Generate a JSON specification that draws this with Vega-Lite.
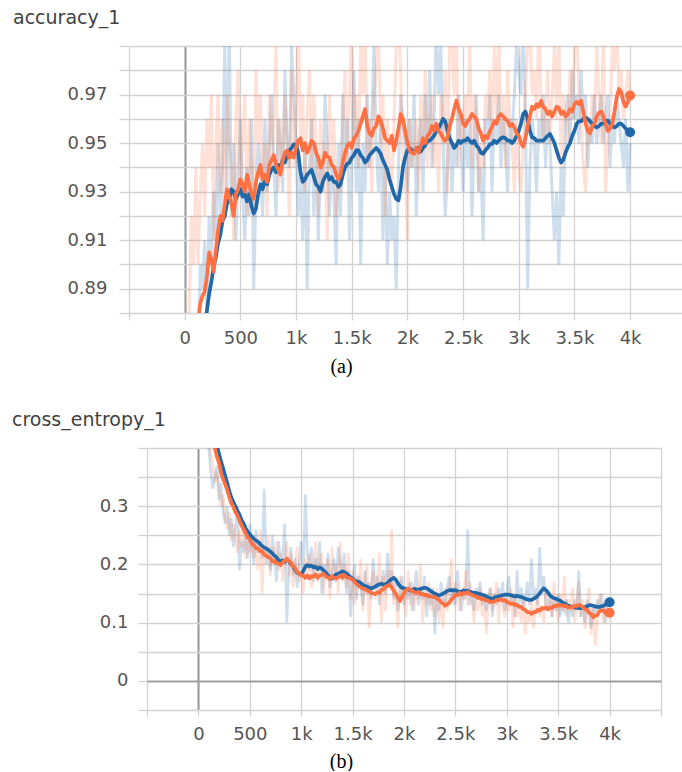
{
  "$schema": "https://vega.github.io/schema/vega-lite/v6.json",
  "background": "white",
  "padding": {"left": 12, "top": 9, "right": 0, "bottom": 0},
  "spacing": 35,
  "config": {
    "view": {"stroke": null},
    "axis": {
      "labelFont": "DejaVu Sans",
      "labelFontSize": 18,
      "labelColor": "#555555",
      "domain": false,
      "grid": true,
      "gridColor": {"condition": {"test": "datum.value === 0", "value": "#9e9e9e"}, "value": "#d2d2d2"},
      "gridWidth": {"condition": {"test": "datum.value === 0", "value": 2.2}, "value": 1.3},
      "tickColor": "#d2d2d2",
      "tickWidth": 1.3,
      "labelOverlap": false,
      "labelFlush": false
    },
    "title": {"font": "DejaVu Sans", "fontSize": 19, "fontWeight": "normal", "color": "#424242", "anchor": "start", "frame": "group", "baseline": "alphabetic", "offset": 9}
  },
  "datasets": {
    "accRaw": [
      {"s":0,"b":0.70,"o":0.74},{"s":20,"b":0.78,"o":0.84},{"s":40,"b":0.82,"o":0.88},{"s":60,"b":0.86,"o":0.92},{"s":80,"b":0.84,"o":0.90},
      {"s":100,"b":0.88,"o":0.94},{"s":120,"b":0.86,"o":0.90},{"s":140,"b":0.90,"o":0.93},{"s":160,"b":0.89,"o":0.95},{"s":180,"b":0.91,"o":0.92},
      {"s":200,"b":0.88,"o":0.96},{"s":220,"b":0.92,"o":0.94},{"s":240,"b":0.90,"o":0.97},{"s":260,"b":0.93,"o":0.91},{"s":280,"b":0.91,"o":0.95},
      {"s":300,"b":0.95,"o":0.97},{"s":320,"b":0.92,"o":0.93},{"s":340,"b":0.94,"o":0.96},{"s":360,"b":0.99,"o":0.92},{"s":380,"b":0.93,"o":0.97},
      {"s":400,"b":1.0,"o":0.95},{"s":420,"b":0.92,"o":0.94},{"s":440,"b":0.95,"o":0.91},{"s":460,"b":0.91,"o":0.96},{"s":480,"b":0.94,"o":0.98},
      {"s":500,"b":0.96,"o":0.93},{"s":520,"b":0.93,"o":0.95},{"s":540,"b":0.91,"o":0.97},{"s":560,"b":0.94,"o":0.92},{"s":580,"b":0.92,"o":0.96},
      {"s":600,"b":0.96,"o":0.94},{"s":620,"b":0.89,"o":0.92},{"s":640,"b":0.93,"o":0.98},{"s":660,"b":0.95,"o":0.95},{"s":680,"b":0.94,"o":0.97},
      {"s":700,"b":0.92,"o":0.93},{"s":720,"b":0.96,"o":0.95},{"s":740,"b":0.93,"o":0.92},{"s":760,"b":0.95,"o":0.97},{"s":780,"b":0.97,"o":0.94},
      {"s":800,"b":0.94,"o":0.96},{"s":820,"b":0.92,"o":0.99},{"s":840,"b":0.96,"o":0.93},{"s":860,"b":0.95,"o":0.96},{"s":880,"b":0.93,"o":0.94},
      {"s":900,"b":0.98,"o":0.97},{"s":920,"b":0.95,"o":0.95},{"s":940,"b":0.94,"o":0.92},{"s":960,"b":0.99,"o":0.98},{"s":980,"b":0.97,"o":0.94},
      {"s":1000,"b":0.95,"o":0.96},{"s":1020,"b":0.92,"o":1.0},{"s":1040,"b":0.94,"o":0.95},{"s":1060,"b":0.91,"o":0.97},{"s":1080,"b":0.95,"o":0.93},
      {"s":1100,"b":0.89,"o":0.96},{"s":1120,"b":0.94,"o":0.98},{"s":1140,"b":0.96,"o":0.94},{"s":1160,"b":0.92,"o":0.97},{"s":1180,"b":0.95,"o":0.95},
      {"s":1200,"b":0.91,"o":0.92},{"s":1220,"b":0.94,"o":0.96},{"s":1240,"b":0.93,"o":0.93},{"s":1260,"b":0.97,"o":0.95},{"s":1280,"b":0.95,"o":0.91},
      {"s":1300,"b":0.92,"o":0.97},{"s":1320,"b":0.94,"o":0.94},{"s":1340,"b":0.93,"o":0.96},{"s":1360,"b":0.90,"o":0.92},{"s":1380,"b":0.95,"o":0.94},
      {"s":1400,"b":0.92,"o":0.93},{"s":1420,"b":0.97,"o":0.96},{"s":1440,"b":0.94,"o":0.98},{"s":1460,"b":0.96,"o":0.94},{"s":1480,"b":0.91,"o":0.97},
      {"s":1500,"b":0.95,"o":1.0},{"s":1520,"b":0.98,"o":0.95},{"s":1540,"b":0.93,"o":0.97},{"s":1560,"b":0.96,"o":0.94},{"s":1580,"b":0.90,"o":0.99},
      {"s":1600,"b":0.95,"o":0.97},{"s":1620,"b":0.93,"o":1.0},{"s":1640,"b":0.97,"o":0.94},{"s":1660,"b":0.94,"o":0.96},{"s":1680,"b":0.96,"o":0.93},
      {"s":1700,"b":0.99,"o":0.97},{"s":1720,"b":0.95,"o":0.98},{"s":1740,"b":0.93,"o":1.0},{"s":1760,"b":0.96,"o":0.95},{"s":1780,"b":0.91,"o":0.97},
      {"s":1800,"b":0.94,"o":0.92},{"s":1820,"b":0.90,"o":0.96},{"s":1840,"b":0.93,"o":0.94},{"s":1860,"b":0.91,"o":0.93},{"s":1880,"b":0.92,"o":0.96},
      {"s":1900,"b":0.89,"o":0.99},{"s":1920,"b":0.94,"o":1.0},{"s":1940,"b":0.97,"o":0.98},{"s":1960,"b":0.96,"o":0.93},{"s":1980,"b":0.95,"o":0.94},
      {"s":2000,"b":0.93,"o":0.91},{"s":2020,"b":0.96,"o":0.96},{"s":2040,"b":0.94,"o":0.94},{"s":2060,"b":0.97,"o":0.95},{"s":2080,"b":0.92,"o":0.96},
      {"s":2100,"b":0.95,"o":0.93},{"s":2120,"b":0.96,"o":0.97},{"s":2140,"b":0.93,"o":0.95},{"s":2160,"b":0.97,"o":0.98},{"s":2180,"b":0.95,"o":0.94},
      {"s":2200,"b":0.98,"o":0.96},{"s":2220,"b":0.94,"o":0.97},{"s":2240,"b":0.96,"o":0.94},{"s":2260,"b":1.0,"o":0.96},{"s":2280,"b":0.97,"o":0.93},
      {"s":2300,"b":0.99,"o":0.97},{"s":2320,"b":0.95,"o":0.95},{"s":2340,"b":0.92,"o":0.98},{"s":2360,"b":0.94,"o":0.93},{"s":2380,"b":0.96,"o":1.0},
      {"s":2400,"b":0.93,"o":0.99},{"s":2420,"b":0.95,"o":0.97},{"s":2440,"b":0.94,"o":1.0},{"s":2460,"b":0.97,"o":0.94},{"s":2480,"b":0.95,"o":0.96},
      {"s":2500,"b":0.93,"o":0.95},{"s":2520,"b":0.96,"o":0.97},{"s":2540,"b":0.94,"o":0.96},{"s":2560,"b":0.96,"o":0.99},{"s":2580,"b":0.92,"o":0.94},
      {"s":2600,"b":0.95,"o":0.97},{"s":2620,"b":0.97,"o":0.96},{"s":2640,"b":0.93,"o":0.93},{"s":2660,"b":0.94,"o":0.95},{"s":2680,"b":0.91,"o":0.94},
      {"s":2700,"b":0.96,"o":0.97},{"s":2720,"b":0.95,"o":0.96},{"s":2740,"b":0.97,"o":0.98},{"s":2760,"b":0.93,"o":0.95},{"s":2780,"b":0.96,"o":0.99},
      {"s":2800,"b":0.95,"o":0.96},{"s":2820,"b":0.97,"o":1.0},{"s":2840,"b":0.94,"o":0.95},{"s":2860,"b":0.96,"o":0.97},{"s":2880,"b":0.95,"o":0.94},
      {"s":2900,"b":0.93,"o":0.98},{"s":2920,"b":0.96,"o":0.96},{"s":2940,"b":0.95,"o":0.95},{"s":2960,"b":0.97,"o":0.93},{"s":2980,"b":0.99,"o":0.96},
      {"s":3000,"b":0.98,"o":0.94},{"s":3020,"b":0.97,"o":0.93},{"s":3040,"b":1.0,"o":0.95},{"s":3060,"b":0.96,"o":0.97},{"s":3080,"b":0.89,"o":0.99},
      {"s":3100,"b":0.94,"o":1.0},{"s":3120,"b":0.96,"o":0.97},{"s":3140,"b":0.95,"o":0.98},{"s":3160,"b":0.93,"o":0.96},{"s":3180,"b":0.96,"o":1.0},
      {"s":3200,"b":0.95,"o":0.97},{"s":3220,"b":0.97,"o":0.95},{"s":3240,"b":0.94,"o":0.96},{"s":3260,"b":0.96,"o":0.98},{"s":3280,"b":0.95,"o":0.95},
      {"s":3300,"b":0.93,"o":0.97},{"s":3320,"b":0.91,"o":0.99},{"s":3340,"b":0.93,"o":0.96},{"s":3360,"b":0.90,"o":1.0},{"s":3380,"b":0.94,"o":0.94},
      {"s":3400,"b":0.92,"o":0.97},{"s":3420,"b":0.96,"o":0.96},{"s":3440,"b":0.97,"o":0.95},{"s":3460,"b":0.95,"o":0.98},{"s":3480,"b":0.98,"o":0.96},
      {"s":3500,"b":0.96,"o":0.99},{"s":3520,"b":0.97,"o":1.0},{"s":3540,"b":0.95,"o":0.97},{"s":3560,"b":0.98,"o":0.96},{"s":3580,"b":0.96,"o":0.94},
      {"s":3600,"b":0.97,"o":0.93},{"s":3620,"b":0.94,"o":0.96},{"s":3640,"b":0.96,"o":0.95},{"s":3660,"b":0.95,"o":0.97},{"s":3680,"b":0.97,"o":0.96},
      {"s":3700,"b":0.95,"o":0.99},{"s":3720,"b":0.96,"o":0.97},{"s":3740,"b":0.97,"o":0.95},{"s":3760,"b":0.95,"o":1.0},{"s":3780,"b":0.96,"o":0.93},
      {"s":3800,"b":0.97,"o":0.95},{"s":3820,"b":0.94,"o":0.96},{"s":3840,"b":0.96,"o":0.99},{"s":3860,"b":0.95,"o":0.98},{"s":3880,"b":0.97,"o":1.0},
      {"s":3900,"b":0.96,"o":0.97},{"s":3920,"b":0.95,"o":0.98},{"s":3940,"b":0.94,"o":0.96},{"s":3960,"b":0.96,"o":0.97},{"s":3980,"b":0.93,"o":0.98},
      {"s":4000,"b":0.95,"o":0.97}
    ],
    "accSm": [
      {"s":0,"b":0.70,"o":0.72},{"s":20,"b":0.73,"o":0.76},{"s":40,"b":0.76,"o":0.80},{"s":60,"b":0.79,"o":0.83},{"s":80,"b":0.82,"o":0.85},
      {"s":100,"b":0.84,"o":0.866},{"s":120,"b":0.855,"o":0.877},{"s":140,"b":0.864,"o":0.884},{"s":160,"b":0.870,"o":0.887},{"s":180,"b":0.876,"o":0.889},
      {"s":200,"b":0.881,"o":0.895},{"s":220,"b":0.888,"o":0.905},{"s":240,"b":0.893,"o":0.902},{"s":260,"b":0.899,"o":0.897},{"s":280,"b":0.903,"o":0.906},
      {"s":300,"b":0.909,"o":0.914},{"s":320,"b":0.912,"o":0.920},{"s":340,"b":0.918,"o":0.918},{"s":360,"b":0.920,"o":0.925},{"s":380,"b":0.925,"o":0.931},
      {"s":400,"b":0.927,"o":0.928},{"s":420,"b":0.931,"o":0.925},{"s":440,"b":0.930,"o":0.920},{"s":460,"b":0.927,"o":0.929},{"s":480,"b":0.929,"o":0.931},
      {"s":500,"b":0.931,"o":0.935},{"s":520,"b":0.928,"o":0.933},{"s":540,"b":0.929,"o":0.930},{"s":560,"b":0.926,"o":0.937},{"s":580,"b":0.929,"o":0.933},
      {"s":600,"b":0.924,"o":0.929},{"s":620,"b":0.921,"o":0.927},{"s":640,"b":0.923,"o":0.934},{"s":660,"b":0.929,"o":0.938},{"s":680,"b":0.933,"o":0.941},
      {"s":700,"b":0.931,"o":0.935},{"s":720,"b":0.935,"o":0.937},{"s":740,"b":0.933,"o":0.934},{"s":760,"b":0.937,"o":0.941},{"s":780,"b":0.939,"o":0.943},
      {"s":800,"b":0.940,"o":0.945},{"s":820,"b":0.938,"o":0.941},{"s":840,"b":0.941,"o":0.939},{"s":860,"b":0.940,"o":0.937},{"s":880,"b":0.943,"o":0.943},
      {"s":900,"b":0.942,"o":0.946},{"s":920,"b":0.9455,"o":0.947},{"s":940,"b":0.947,"o":0.944},{"s":960,"b":0.948,"o":0.946},{"s":980,"b":0.9495,"o":0.944},
      {"s":1000,"b":0.9495,"o":0.948},{"s":1020,"b":0.946,"o":0.951},{"s":1040,"b":0.938,"o":0.952},{"s":1060,"b":0.934,"o":0.947},{"s":1080,"b":0.935,"o":0.950},
      {"s":1100,"b":0.937,"o":0.946},{"s":1120,"b":0.938,"o":0.948},{"s":1140,"b":0.939,"o":0.951},{"s":1160,"b":0.936,"o":0.950},{"s":1180,"b":0.933,"o":0.946},
      {"s":1200,"b":0.932,"o":0.944},{"s":1220,"b":0.930,"o":0.940},{"s":1240,"b":0.934,"o":0.942},{"s":1260,"b":0.936,"o":0.946},{"s":1280,"b":0.9375,"o":0.9445},
      {"s":1300,"b":0.935,"o":0.944},{"s":1320,"b":0.936,"o":0.941},{"s":1340,"b":0.934,"o":0.940},{"s":1360,"b":0.934,"o":0.937},{"s":1380,"b":0.932,"o":0.935},
      {"s":1400,"b":0.933,"o":0.937},{"s":1420,"b":0.937,"o":0.942},{"s":1440,"b":0.940,"o":0.946},{"s":1460,"b":0.9415,"o":0.949},{"s":1480,"b":0.942,"o":0.950},
      {"s":1500,"b":0.944,"o":0.948},{"s":1520,"b":0.945,"o":0.952},{"s":1540,"b":0.947,"o":0.953},{"s":1560,"b":0.947,"o":0.955},{"s":1580,"b":0.945,"o":0.958},
      {"s":1600,"b":0.944,"o":0.961},{"s":1620,"b":0.942,"o":0.964},{"s":1640,"b":0.943,"o":0.957},{"s":1660,"b":0.945,"o":0.954},{"s":1680,"b":0.946,"o":0.953},
      {"s":1700,"b":0.947,"o":0.956},{"s":1720,"b":0.948,"o":0.957},{"s":1740,"b":0.947,"o":0.961},{"s":1760,"b":0.9456,"o":0.9593},{"s":1780,"b":0.943,"o":0.956},
      {"s":1800,"b":0.941,"o":0.952},{"s":1820,"b":0.939,"o":0.951},{"s":1840,"b":0.935,"o":0.950},{"s":1860,"b":0.932,"o":0.953},{"s":1880,"b":0.929,"o":0.947},
      {"s":1900,"b":0.927,"o":0.951},{"s":1920,"b":0.9264,"o":0.956},{"s":1940,"b":0.932,"o":0.962},{"s":1960,"b":0.940,"o":0.960},{"s":1980,"b":0.944,"o":0.955},
      {"s":2000,"b":0.947,"o":0.950},{"s":2020,"b":0.948,"o":0.947},{"s":2040,"b":0.947,"o":0.946},{"s":2060,"b":0.946,"o":0.9456},{"s":2080,"b":0.948,"o":0.948},
      {"s":2100,"b":0.948,"o":0.946},{"s":2120,"b":0.9465,"o":0.949},{"s":2140,"b":0.948,"o":0.952},{"s":2160,"b":0.949,"o":0.950},{"s":2180,"b":0.951,"o":0.953},
      {"s":2200,"b":0.951,"o":0.954},{"s":2220,"b":0.952,"o":0.957},{"s":2240,"b":0.953,"o":0.955},{"s":2260,"b":0.955,"o":0.958},{"s":2280,"b":0.956,"o":0.955},
      {"s":2300,"b":0.958,"o":0.954},{"s":2320,"b":0.960,"o":0.952},{"s":2340,"b":0.959,"o":0.951},{"s":2360,"b":0.955,"o":0.9524},{"s":2380,"b":0.952,"o":0.957},
      {"s":2400,"b":0.950,"o":0.960},{"s":2420,"b":0.948,"o":0.964},{"s":2440,"b":0.949,"o":0.9675},{"s":2460,"b":0.951,"o":0.964},{"s":2480,"b":0.950,"o":0.962},
      {"s":2500,"b":0.951,"o":0.958},{"s":2520,"b":0.951,"o":0.957},{"s":2540,"b":0.952,"o":0.959},{"s":2560,"b":0.951,"o":0.960},{"s":2580,"b":0.950,"o":0.962},
      {"s":2600,"b":0.951,"o":0.961},{"s":2620,"b":0.949,"o":0.960},{"s":2640,"b":0.948,"o":0.956},{"s":2660,"b":0.946,"o":0.954},{"s":2680,"b":0.9456,"o":0.951},
      {"s":2700,"b":0.947,"o":0.953},{"s":2720,"b":0.948,"o":0.952},{"s":2740,"b":0.9495,"o":0.955},{"s":2760,"b":0.9497,"o":0.9565},{"s":2780,"b":0.951,"o":0.959},
      {"s":2800,"b":0.950,"o":0.958},{"s":2820,"b":0.951,"o":0.961},{"s":2840,"b":0.952,"o":0.962},{"s":2860,"b":0.9524,"o":0.961},{"s":2880,"b":0.952,"o":0.960},
      {"s":2900,"b":0.951,"o":0.959},{"s":2920,"b":0.951,"o":0.957},{"s":2940,"b":0.950,"o":0.958},{"s":2960,"b":0.951,"o":0.9565},{"s":2980,"b":0.953,"o":0.954},
      {"s":3000,"b":0.955,"o":0.953},{"s":3020,"b":0.958,"o":0.950},{"s":3040,"b":0.962,"o":0.9485},{"s":3060,"b":0.963,"o":0.952},{"s":3080,"b":0.960,"o":0.957},
      {"s":3100,"b":0.955,"o":0.961},{"s":3120,"b":0.9524,"o":0.965},{"s":3140,"b":0.952,"o":0.964},{"s":3160,"b":0.951,"o":0.966},{"s":3180,"b":0.951,"o":0.965},
      {"s":3200,"b":0.951,"o":0.9675},{"s":3220,"b":0.951,"o":0.965},{"s":3240,"b":0.952,"o":0.964},{"s":3260,"b":0.953,"o":0.962},{"s":3280,"b":0.9538,"o":0.963},
      {"s":3300,"b":0.952,"o":0.961},{"s":3320,"b":0.950,"o":0.963},{"s":3340,"b":0.947,"o":0.965},{"s":3360,"b":0.944,"o":0.9645},{"s":3380,"b":0.942,"o":0.962},
      {"s":3400,"b":0.943,"o":0.963},{"s":3420,"b":0.946,"o":0.961},{"s":3440,"b":0.9483,"o":0.962},{"s":3460,"b":0.950,"o":0.964},{"s":3480,"b":0.953,"o":0.963},
      {"s":3500,"b":0.955,"o":0.966},{"s":3520,"b":0.958,"o":0.967},{"s":3540,"b":0.959,"o":0.966},{"s":3560,"b":0.959,"o":0.9675},{"s":3580,"b":0.960,"o":0.963},
      {"s":3600,"b":0.9605,"o":0.958},{"s":3620,"b":0.960,"o":0.955},{"s":3640,"b":0.959,"o":0.954},{"s":3660,"b":0.958,"o":0.957},{"s":3680,"b":0.957,"o":0.958},
      {"s":3700,"b":0.9565,"o":0.961},{"s":3720,"b":0.957,"o":0.9625},{"s":3740,"b":0.958,"o":0.963},{"s":3760,"b":0.958,"o":0.961},{"s":3780,"b":0.959,"o":0.958},
      {"s":3800,"b":0.9593,"o":0.955},{"s":3820,"b":0.958,"o":0.956},{"s":3840,"b":0.957,"o":0.958},{"s":3860,"b":0.9565,"o":0.963},{"s":3880,"b":0.957,"o":0.969},
      {"s":3900,"b":0.958,"o":0.9723},{"s":3920,"b":0.958,"o":0.971},{"s":3940,"b":0.957,"o":0.967},{"s":3960,"b":0.956,"o":0.965},{"s":3980,"b":0.955,"o":0.967},
      {"s":4000,"b":0.9545,"o":0.9696}
    ],
    "ceRaw": [
      {"s":0,"b":0.95,"o":0.92},{"s":20,"b":0.72,"o":0.70},{"s":40,"b":0.58,"o":0.60},{"s":60,"b":0.50,"o":0.52},{"s":80,"b":0.45,"o":0.46},
      {"s":100,"b":0.40,"o":0.42},{"s":120,"b":0.36,"o":0.39},{"s":140,"b":0.33,"o":0.37},{"s":160,"b":0.35,"o":0.34},{"s":180,"b":0.37,"o":0.36},
      {"s":200,"b":0.31,"o":0.33},{"s":220,"b":0.34,"o":0.30},{"s":240,"b":0.29,"o":0.32},{"s":260,"b":0.27,"o":0.28},{"s":280,"b":0.30,"o":0.26},
      {"s":300,"b":0.25,"o":0.29},{"s":320,"b":0.28,"o":0.24},{"s":340,"b":0.23,"o":0.27},{"s":360,"b":0.26,"o":0.25},{"s":380,"b":0.30,"o":0.22},
      {"s":400,"b":0.19,"o":0.26},{"s":420,"b":0.24,"o":0.23},{"s":440,"b":0.22,"o":0.27},{"s":460,"b":0.25,"o":0.21},{"s":480,"b":0.21,"o":0.24},
      {"s":500,"b":0.27,"o":0.22},{"s":520,"b":0.23,"o":0.25},{"s":540,"b":0.20,"o":0.21},{"s":560,"b":0.26,"o":0.24},{"s":580,"b":0.22,"o":0.19},
      {"s":600,"b":0.24,"o":0.26},{"s":620,"b":0.21,"o":0.15},{"s":640,"b":0.33,"o":0.23},{"s":660,"b":0.20,"o":0.21},{"s":680,"b":0.23,"o":0.25},
      {"s":700,"b":0.19,"o":0.18},{"s":720,"b":0.25,"o":0.23},{"s":740,"b":0.21,"o":0.20},{"s":760,"b":0.17,"o":0.24},{"s":780,"b":0.24,"o":0.19},
      {"s":800,"b":0.20,"o":0.22},{"s":820,"b":0.22,"o":0.17},{"s":840,"b":0.27,"o":0.21},{"s":860,"b":0.10,"o":0.24},{"s":880,"b":0.19,"o":0.18},
      {"s":900,"b":0.23,"o":0.22},{"s":920,"b":0.18,"o":0.16},{"s":940,"b":0.21,"o":0.20},{"s":960,"b":0.16,"o":0.23},{"s":980,"b":0.20,"o":0.17},
      {"s":1000,"b":0.24,"o":0.19},{"s":1020,"b":0.18,"o":0.15},{"s":1040,"b":0.32,"o":0.21},{"s":1060,"b":0.22,"o":0.18},{"s":1080,"b":0.19,"o":0.22},
      {"s":1100,"b":0.23,"o":0.16},{"s":1120,"b":0.17,"o":0.19},{"s":1140,"b":0.21,"o":0.24},{"s":1160,"b":0.19,"o":0.17},{"s":1180,"b":0.24,"o":0.20},
      {"s":1200,"b":0.15,"o":0.22},{"s":1220,"b":0.20,"o":0.15},{"s":1240,"b":0.18,"o":0.19},{"s":1260,"b":0.22,"o":0.21},{"s":1280,"b":0.16,"o":0.14},
      {"s":1300,"b":0.19,"o":0.23},{"s":1320,"b":0.21,"o":0.17},{"s":1340,"b":0.17,"o":0.20},{"s":1360,"b":0.23,"o":0.15},{"s":1380,"b":0.20,"o":0.24},
      {"s":1400,"b":0.18,"o":0.17},{"s":1420,"b":0.22,"o":0.20},{"s":1440,"b":0.15,"o":0.16},{"s":1460,"b":0.19,"o":0.22},{"s":1480,"b":0.11,"o":0.14},
      {"s":1500,"b":0.17,"o":0.19},{"s":1520,"b":0.20,"o":0.13},{"s":1540,"b":0.14,"o":0.18},{"s":1560,"b":0.18,"o":0.16},{"s":1580,"b":0.16,"o":0.21},
      {"s":1600,"b":0.13,"o":0.12},{"s":1620,"b":0.19,"o":0.17},{"s":1640,"b":0.15,"o":0.20},{"s":1660,"b":0.17,"o":0.09},{"s":1680,"b":0.14,"o":0.16},
      {"s":1700,"b":0.21,"o":0.19},{"s":1720,"b":0.16,"o":0.14},{"s":1740,"b":0.18,"o":0.17},{"s":1760,"b":0.13,"o":0.22},{"s":1780,"b":0.17,"o":0.10},
      {"s":1800,"b":0.19,"o":0.18},{"s":1820,"b":0.15,"o":0.12},{"s":1840,"b":0.22,"o":0.19},{"s":1860,"b":0.16,"o":0.16},{"s":1880,"b":0.19,"o":0.26},
      {"s":1900,"b":0.14,"o":0.13},{"s":1920,"b":0.17,"o":0.15},{"s":1940,"b":0.12,"o":0.09},{"s":1960,"b":0.15,"o":0.18},{"s":1980,"b":0.18,"o":0.14},
      {"s":2000,"b":0.13,"o":0.16},{"s":2020,"b":0.16,"o":0.11},{"s":2040,"b":0.14,"o":0.19},{"s":2060,"b":0.17,"o":0.13},{"s":2080,"b":0.12,"o":0.17},
      {"s":2100,"b":0.15,"o":0.12},{"s":2120,"b":0.19,"o":0.16},{"s":2140,"b":0.13,"o":0.14},{"s":2160,"b":0.16,"o":0.20},{"s":2180,"b":0.14,"o":0.10},
      {"s":2200,"b":0.18,"o":0.15},{"s":2220,"b":0.11,"o":0.13},{"s":2240,"b":0.15,"o":0.17},{"s":2260,"b":0.13,"o":0.12},{"s":2280,"b":0.16,"o":0.14},
      {"s":2300,"b":0.08,"o":0.11},{"s":2320,"b":0.15,"o":0.16},{"s":2340,"b":0.12,"o":0.10},{"s":2360,"b":0.17,"o":0.14},{"s":2380,"b":0.14,"o":0.09},
      {"s":2400,"b":0.13,"o":0.16},{"s":2420,"b":0.16,"o":0.12},{"s":2440,"b":0.18,"o":0.15},{"s":2460,"b":0.14,"o":0.21},{"s":2480,"b":0.16,"o":0.13},
      {"s":2500,"b":0.13,"o":0.17},{"s":2520,"b":0.19,"o":0.15},{"s":2540,"b":0.15,"o":0.12},{"s":2560,"b":0.12,"o":0.16},{"s":2580,"b":0.16,"o":0.14},
      {"s":2600,"b":0.14,"o":0.19},{"s":2620,"b":0.26,"o":0.13},{"s":2640,"b":0.13,"o":0.17},{"s":2660,"b":0.15,"o":0.15},{"s":2680,"b":0.12,"o":0.10},
      {"s":2700,"b":0.16,"o":0.14},{"s":2720,"b":0.14,"o":0.12},{"s":2740,"b":0.17,"o":0.16},{"s":2760,"b":0.13,"o":0.11},{"s":2780,"b":0.15,"o":0.15},
      {"s":2800,"b":0.12,"o":0.08},{"s":2820,"b":0.14,"o":0.13},{"s":2840,"b":0.16,"o":0.16},{"s":2860,"b":0.11,"o":0.12},{"s":2880,"b":0.15,"o":0.14},
      {"s":2900,"b":0.13,"o":0.17},{"s":2920,"b":0.16,"o":0.10},{"s":2940,"b":0.14,"o":0.15},{"s":2960,"b":0.17,"o":0.13},{"s":2980,"b":0.12,"o":0.11},
      {"s":3000,"b":0.15,"o":0.14},{"s":3020,"b":0.18,"o":0.12},{"s":3040,"b":0.13,"o":0.16},{"s":3060,"b":0.15,"o":0.09},{"s":3080,"b":0.11,"o":0.15},
      {"s":3100,"b":0.19,"o":0.11},{"s":3120,"b":0.13,"o":0.13},{"s":3140,"b":0.16,"o":0.10},{"s":3160,"b":0.12,"o":0.14},{"s":3180,"b":0.14,"o":0.08},
      {"s":3200,"b":0.17,"o":0.12},{"s":3220,"b":0.13,"o":0.10},{"s":3240,"b":0.21,"o":0.14},{"s":3260,"b":0.14,"o":0.09},{"s":3280,"b":0.16,"o":0.12},
      {"s":3300,"b":0.13,"o":0.15},{"s":3320,"b":0.23,"o":0.11},{"s":3340,"b":0.15,"o":0.13},{"s":3360,"b":0.18,"o":0.10},{"s":3380,"b":0.13,"o":0.16},
      {"s":3400,"b":0.12,"o":0.12},{"s":3420,"b":0.15,"o":0.14},{"s":3440,"b":0.11,"o":0.11},{"s":3460,"b":0.14,"o":0.17},{"s":3480,"b":0.12,"o":0.13},
      {"s":3500,"b":0.15,"o":0.10},{"s":3520,"b":0.11,"o":0.15},{"s":3540,"b":0.13,"o":0.12},{"s":3560,"b":0.12,"o":0.18},{"s":3580,"b":0.14,"o":0.11},
      {"s":3600,"b":0.10,"o":0.14},{"s":3620,"b":0.13,"o":0.12},{"s":3640,"b":0.11,"o":0.16},{"s":3660,"b":0.14,"o":0.10},{"s":3680,"b":0.12,"o":0.13},
      {"s":3700,"b":0.19,"o":0.17},{"s":3720,"b":0.11,"o":0.11},{"s":3740,"b":0.13,"o":0.14},{"s":3760,"b":0.10,"o":0.09},{"s":3780,"b":0.14,"o":0.12},
      {"s":3800,"b":0.12,"o":0.16},{"s":3820,"b":0.09,"o":0.08},{"s":3840,"b":0.13,"o":0.13},{"s":3860,"b":0.11,"o":0.06},{"s":3880,"b":0.14,"o":0.10},
      {"s":3900,"b":0.12,"o":0.15},{"s":3920,"b":0.15,"o":0.12},{"s":3940,"b":0.13,"o":0.10},{"s":3960,"b":0.10,"o":0.14},{"s":3980,"b":0.14,"o":0.11},
      {"s":4000,"b":0.13,"o":0.12}
    ],
    "ceSm": [
      {"s":0,"b":0.75,"o":0.72},{"s":20,"b":0.68,"o":0.66},{"s":40,"b":0.62,"o":0.60},{"s":60,"b":0.58,"o":0.56},{"s":80,"b":0.54,"o":0.52},
      {"s":100,"b":0.50,"o":0.48},{"s":120,"b":0.47,"o":0.45},{"s":140,"b":0.445,"o":0.425},{"s":160,"b":0.42,"o":0.40},{"s":180,"b":0.405,"o":0.385},
      {"s":200,"b":0.390,"o":0.375},{"s":220,"b":0.377,"o":0.358},{"s":240,"b":0.365,"o":0.347},{"s":260,"b":0.352,"o":0.338},{"s":280,"b":0.340,"o":0.328},
      {"s":300,"b":0.326,"o":0.316},{"s":320,"b":0.315,"o":0.305},{"s":340,"b":0.307,"o":0.299},{"s":360,"b":0.300,"o":0.290},{"s":380,"b":0.292,"o":0.284},
      {"s":400,"b":0.285,"o":0.275},{"s":420,"b":0.276,"o":0.267},{"s":440,"b":0.270,"o":0.260},{"s":460,"b":0.262,"o":0.254},{"s":480,"b":0.256,"o":0.246},
      {"s":500,"b":0.252,"o":0.243},{"s":520,"b":0.248,"o":0.236},{"s":540,"b":0.244,"o":0.233},{"s":560,"b":0.241,"o":0.228},{"s":580,"b":0.239,"o":0.227},
      {"s":600,"b":0.235,"o":0.223},{"s":620,"b":0.232,"o":0.222},{"s":640,"b":0.229,"o":0.217},{"s":660,"b":0.227,"o":0.215},{"s":680,"b":0.225,"o":0.212},
      {"s":700,"b":0.222,"o":0.211},{"s":720,"b":0.219,"o":0.205},{"s":740,"b":0.215,"o":0.206},{"s":760,"b":0.212,"o":0.202},{"s":780,"b":0.207,"o":0.202},
      {"s":800,"b":0.205,"o":0.199},{"s":820,"b":0.207,"o":0.204},{"s":840,"b":0.2045,"o":0.206},{"s":860,"b":0.208,"o":0.210},{"s":880,"b":0.206,"o":0.206},
      {"s":900,"b":0.201,"o":0.203},{"s":920,"b":0.197,"o":0.197},{"s":940,"b":0.191,"o":0.194},{"s":960,"b":0.186,"o":0.187},{"s":980,"b":0.184,"o":0.185},
      {"s":1000,"b":0.183,"o":0.181},{"s":1020,"b":0.189,"o":0.181},{"s":1040,"b":0.196,"o":0.177},{"s":1060,"b":0.199,"o":0.181},{"s":1080,"b":0.197,"o":0.176},
      {"s":1100,"b":0.198,"o":0.180},{"s":1120,"b":0.195,"o":0.179},{"s":1140,"b":0.196,"o":0.183},{"s":1160,"b":0.192,"o":0.177},{"s":1180,"b":0.195,"o":0.181},
      {"s":1200,"b":0.193,"o":0.182},{"s":1220,"b":0.189,"o":0.184},{"s":1240,"b":0.186,"o":0.179},{"s":1260,"b":0.181,"o":0.178},{"s":1280,"b":0.177,"o":0.175},
      {"s":1300,"b":0.176,"o":0.180},{"s":1320,"b":0.180,"o":0.177},{"s":1340,"b":0.183,"o":0.176},{"s":1360,"b":0.184,"o":0.178},{"s":1380,"b":0.186,"o":0.181},
      {"s":1400,"b":0.188,"o":0.177},{"s":1420,"b":0.187,"o":0.182},{"s":1440,"b":0.184,"o":0.178},{"s":1460,"b":0.181,"o":0.177},{"s":1480,"b":0.178,"o":0.176},
      {"s":1500,"b":0.176,"o":0.174},{"s":1520,"b":0.172,"o":0.170},{"s":1540,"b":0.171,"o":0.166},{"s":1560,"b":0.170,"o":0.163},{"s":1580,"b":0.168,"o":0.161},
      {"s":1600,"b":0.165,"o":0.158},{"s":1620,"b":0.163,"o":0.158},{"s":1640,"b":0.162,"o":0.155},{"s":1660,"b":0.160,"o":0.154},{"s":1680,"b":0.159,"o":0.151},
      {"s":1700,"b":0.160,"o":0.150},{"s":1720,"b":0.162,"o":0.149},{"s":1740,"b":0.164,"o":0.152},{"s":1760,"b":0.166,"o":0.151},{"s":1780,"b":0.167,"o":0.156},
      {"s":1800,"b":0.165,"o":0.157},{"s":1820,"b":0.166,"o":0.162},{"s":1840,"b":0.168,"o":0.163},{"s":1860,"b":0.172,"o":0.166},{"s":1880,"b":0.175,"o":0.160},
      {"s":1900,"b":0.177,"o":0.155},{"s":1920,"b":0.174,"o":0.149},{"s":1940,"b":0.168,"o":0.143},{"s":1960,"b":0.163,"o":0.137},{"s":1980,"b":0.160,"o":0.144},
      {"s":2000,"b":0.159,"o":0.150},{"s":2020,"b":0.158,"o":0.156},{"s":2040,"b":0.157,"o":0.159},{"s":2060,"b":0.155,"o":0.156},{"s":2080,"b":0.156,"o":0.155},
      {"s":2100,"b":0.158,"o":0.152},{"s":2120,"b":0.157,"o":0.151},{"s":2140,"b":0.156,"o":0.153},{"s":2160,"b":0.158,"o":0.149},{"s":2180,"b":0.159,"o":0.150},
      {"s":2200,"b":0.160,"o":0.147},{"s":2220,"b":0.159,"o":0.148},{"s":2240,"b":0.157,"o":0.145},{"s":2260,"b":0.154,"o":0.145},{"s":2280,"b":0.152,"o":0.144},
      {"s":2300,"b":0.150,"o":0.144},{"s":2320,"b":0.148,"o":0.141},{"s":2340,"b":0.147,"o":0.140},{"s":2360,"b":0.148,"o":0.135},{"s":2380,"b":0.150,"o":0.133},
      {"s":2400,"b":0.152,"o":0.129},{"s":2420,"b":0.154,"o":0.132},{"s":2440,"b":0.156,"o":0.134},{"s":2460,"b":0.156,"o":0.140},{"s":2480,"b":0.155,"o":0.143},
      {"s":2500,"b":0.156,"o":0.148},{"s":2520,"b":0.154,"o":0.147},{"s":2540,"b":0.153,"o":0.151},{"s":2560,"b":0.153,"o":0.148},{"s":2580,"b":0.155,"o":0.151},
      {"s":2600,"b":0.154,"o":0.150},{"s":2620,"b":0.155,"o":0.153},{"s":2640,"b":0.153,"o":0.149},{"s":2660,"b":0.152,"o":0.148},{"s":2680,"b":0.151,"o":0.146},
      {"s":2700,"b":0.151,"o":0.145},{"s":2720,"b":0.150,"o":0.142},{"s":2740,"b":0.149,"o":0.143},{"s":2760,"b":0.148,"o":0.140},{"s":2780,"b":0.147,"o":0.141},
      {"s":2800,"b":0.145,"o":0.138},{"s":2820,"b":0.143,"o":0.138},{"s":2840,"b":0.142,"o":0.135},{"s":2860,"b":0.141,"o":0.136},{"s":2880,"b":0.143,"o":0.136},
      {"s":2900,"b":0.144,"o":0.139},{"s":2920,"b":0.145,"o":0.138},{"s":2940,"b":0.146,"o":0.141},{"s":2960,"b":0.147,"o":0.138},{"s":2980,"b":0.148,"o":0.139},
      {"s":3000,"b":0.148,"o":0.135},{"s":3020,"b":0.148,"o":0.135},{"s":3040,"b":0.147,"o":0.132},{"s":3060,"b":0.146,"o":0.133},{"s":3080,"b":0.145,"o":0.130},
      {"s":3100,"b":0.146,"o":0.131},{"s":3120,"b":0.145,"o":0.127},{"s":3140,"b":0.144,"o":0.127},{"s":3160,"b":0.143,"o":0.123},{"s":3180,"b":0.141,"o":0.122},
      {"s":3200,"b":0.140,"o":0.118},{"s":3220,"b":0.139,"o":0.118},{"s":3240,"b":0.139,"o":0.115},{"s":3260,"b":0.141,"o":0.118},{"s":3280,"b":0.143,"o":0.118},
      {"s":3300,"b":0.146,"o":0.122},{"s":3320,"b":0.150,"o":0.121},{"s":3340,"b":0.155,"o":0.125},{"s":3360,"b":0.159,"o":0.124},{"s":3380,"b":0.156,"o":0.126},
      {"s":3400,"b":0.152,"o":0.123},{"s":3420,"b":0.147,"o":0.126},{"s":3440,"b":0.144,"o":0.125},{"s":3460,"b":0.142,"o":0.129},{"s":3480,"b":0.141,"o":0.128},
      {"s":3500,"b":0.139,"o":0.131},{"s":3520,"b":0.138,"o":0.129},{"s":3540,"b":0.135,"o":0.130},{"s":3560,"b":0.133,"o":0.128},{"s":3580,"b":0.131,"o":0.129},
      {"s":3600,"b":0.129,"o":0.126},{"s":3620,"b":0.128,"o":0.127},{"s":3640,"b":0.127,"o":0.126},{"s":3660,"b":0.126,"o":0.129},{"s":3680,"b":0.126,"o":0.128},
      {"s":3700,"b":0.125,"o":0.131},{"s":3720,"b":0.125,"o":0.129},{"s":3740,"b":0.126,"o":0.127},{"s":3760,"b":0.127,"o":0.123},{"s":3780,"b":0.128,"o":0.122},
      {"s":3800,"b":0.130,"o":0.117},{"s":3820,"b":0.130,"o":0.115},{"s":3840,"b":0.129,"o":0.109},{"s":3860,"b":0.128,"o":0.112},{"s":3880,"b":0.127,"o":0.113},
      {"s":3900,"b":0.127,"o":0.119},{"s":3920,"b":0.128,"o":0.121},{"s":3940,"b":0.129,"o":0.121},{"s":3960,"b":0.131,"o":0.117},{"s":3980,"b":0.133,"o":0.118},
      {"s":4000,"b":0.135,"o":0.117}
    ]
  },
  "vconcat": [
    {
      "width": 554,
      "height": 267,
      "title": {"text": "accuracy_1", "dx": -116},
      "encoding": {
        "x": {
          "field": "s", "type": "quantitative",
          "scale": {"domain": [-500, 4475], "nice": false, "zero": false},
          "axis": {
            "values": [-500, 0, 500, 1000, 1500, 2000, 2500, 3000, 3500, 4000],
            "tickSize": 7, "labelPadding": 9,
            "labelExpr": "datum.value < 0 ? '' : datum.value == 0 ? '0' : datum.value < 1000 ? '500' : (datum.value / 1000) + 'k'",
            "title": "(a)", "titleFont": "Liberation Serif", "titleFontSize": 20, "titleFontWeight": "normal", "titleColor": "#000000",
            "titleX": 212, "titleY": 59, "titleAlign": "center", "titleBaseline": "alphabetic"
          }
        },
        "y": {
          "field": "v", "type": "quantitative",
          "scale": {"domain": [0.88, 0.99], "nice": false, "zero": false},
          "axis": {
            "values": [0.88, 0.89, 0.9, 0.91, 0.92, 0.93, 0.94, 0.95, 0.96, 0.97, 0.98, 0.99],
            "tickSize": 10, "labelPadding": 12,
            "labelExpr": "(datum.value > 0.885 && datum.value < 0.975 && round(datum.value * 100) % 2 == 1) ? format(datum.value, '.2f') : ''",
            "title": null
          }
        },
        "color": {"field": "run", "type": "nominal", "scale": {"domain": ["b", "o"], "range": ["#2068a8", "#ff7043"]}, "legend": null}
      },
      "layer": [
        {
          "data": {"name": "accRaw"},
          "transform": [{"fold": ["b", "o"], "as": ["run", "v"]}],
          "mark": {"type": "line", "opacity": 0.22, "strokeWidth": 3, "clip": true}
        },
        {
          "data": {"name": "accSm"},
          "transform": [{"fold": ["b", "o"], "as": ["run", "v"]}],
          "mark": {"type": "line", "strokeWidth": 3.7, "strokeJoin": "round", "strokeCap": "round", "clip": true}
        },
        {
          "data": {"name": "accSm"},
          "transform": [{"filter": "datum.s == 4000"}, {"fold": ["b", "o"], "as": ["run", "v"]}],
          "mark": {"type": "point", "shape": "circle", "filled": true, "opacity": 1, "size": 100, "clip": true}
        }
      ]
    },
    {
      "width": 532,
      "height": 262,
      "title": {"text": "cross_entropy_1", "dx": -117},
      "encoding": {
        "x": {
          "field": "s", "type": "quantitative",
          "scale": {"domain": [-500, 4500], "nice": false, "zero": false, "range": [18, 532]},
          "axis": {
            "values": [-500, 0, 500, 1000, 1500, 2000, 2500, 3000, 3500, 4000, 4500],
            "tickSize": 6, "labelPadding": 9,
            "labelExpr": "(datum.value < 0 || datum.value > 4000) ? '' : datum.value == 0 ? '0' : datum.value < 1000 ? '500' : (datum.value / 1000) + 'k'",
            "title": "(b)", "titleFont": "Liberation Serif", "titleFontSize": 20, "titleFontWeight": "normal", "titleColor": "#000000",
            "titleX": 212, "titleY": 57, "titleAlign": "center", "titleBaseline": "alphabetic"
          }
        },
        "y": {
          "field": "v", "type": "quantitative",
          "scale": {"domain": [-0.05, 0.4], "nice": false, "zero": false},
          "axis": {
            "values": [-0.05, 0, 0.05, 0.1, 0.15, 0.2, 0.25, 0.3, 0.35, 0.4],
            "offset": -18,
            "tickSize": 9, "labelPadding": 10,
            "labelExpr": "(datum.value > -0.001 && datum.value < 0.35 && round(datum.value * 100) % 10 == 0) ? (datum.value == 0 ? '0' : format(datum.value, '.1f')) : ''",
            "title": null
          }
        },
        "color": {"field": "run", "type": "nominal", "scale": {"domain": ["b", "o"], "range": ["#2068a8", "#ff7043"]}, "legend": null}
      },
      "layer": [
        {
          "data": {"name": "ceRaw"},
          "transform": [{"fold": ["b", "o"], "as": ["run", "v"]}],
          "mark": {"type": "line", "opacity": 0.22, "strokeWidth": 2.6, "clip": true}
        },
        {
          "data": {"name": "ceSm"},
          "transform": [{"fold": ["b", "o"], "as": ["run", "v"]}],
          "mark": {"type": "line", "strokeWidth": 3.7, "strokeJoin": "round", "strokeCap": "round", "clip": true}
        },
        {
          "data": {"name": "ceSm"},
          "transform": [{"filter": "datum.s == 4000"}, {"fold": ["b", "o"], "as": ["run", "v"]}],
          "mark": {"type": "point", "shape": "circle", "filled": true, "opacity": 1, "size": 100, "clip": true}
        }
      ]
    }
  ]
}
